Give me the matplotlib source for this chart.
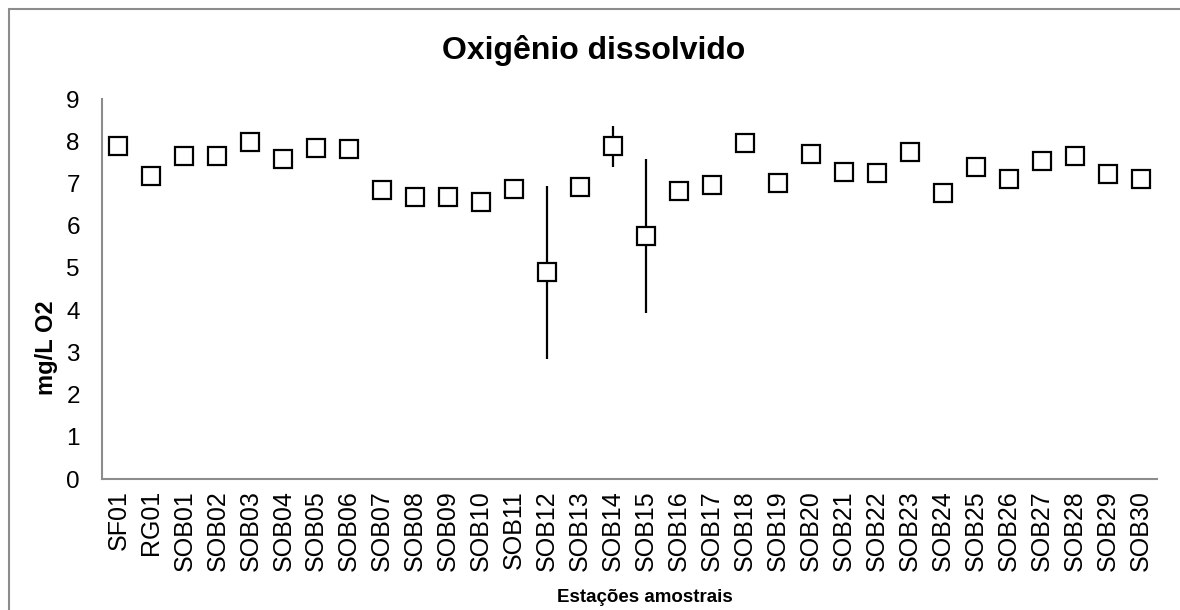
import matplotlib
matplotlib.use("Agg")
import matplotlib.pyplot as plt
from matplotlib.patches import Rectangle

plt.rcParams['font.family'] = ['Liberation Sans', 'DejaVu Sans']

# Sampling stations
stations = ["SF01", "RG01"] + [f"SOB{i:02d}" for i in range(1, 31)]

# Mean dissolved oxygen (mg/L O2) per station
oxygen = [7.89, 7.17, 7.66, 7.66, 7.97, 7.57, 7.85, 7.81, 6.85, 6.67,
          6.68, 6.57, 6.87, 4.90, 6.92, 7.88, 5.75, 6.81, 6.96, 7.95,
          7.00, 7.69, 7.26, 7.24, 7.74, 6.77, 7.38, 7.11, 7.52, 7.64,
          7.23, 7.10]

# Standard deviation (only stations with visible spread)
deviation = [0.0] * len(stations)
deviation[stations.index("SOB12")] = 2.05
deviation[stations.index("SOB14")] = 0.49
deviation[stations.index("SOB15")] = 1.83

W, H = 1180, 610
fig = plt.figure(figsize=(W / 100, H / 100), dpi=100)
ax = fig.add_axes([102 / W, 1 - 479 / H, (1157 - 102) / W, (479 - 99) / H])

x = list(range(len(stations)))
ax.errorbar(x, oxygen, yerr=deviation, fmt='none', ecolor='black',
            elinewidth=1.6, capsize=0, zorder=2)
ax.plot(x, oxygen, linestyle='none', marker='s', markersize=13.5,
        markerfacecolor='white', markeredgecolor='black',
        markeredgewidth=1.6, zorder=3)

ax.set_xlim(-0.5, len(stations) - 0.5)
ax.set_ylim(0, 9)
ax.set_yticks(range(0, 10))
ax.set_xticks(x)
ax.set_xticklabels(stations, rotation=90, fontsize=18)
ax.tick_params(axis='y', labelsize=17.5, length=0, pad=16)
ax.tick_params(axis='x', length=0, pad=8)

for side in ('top', 'right'):
    ax.spines[side].set_visible(False)
for side in ('left', 'bottom'):
    ax.spines[side].set_color('#8c8c8c')
    ax.spines[side].set_linewidth(1.5)

# Axis titles
fig.text(47 / W, 1 - 348 / H, "mg/L O2", fontsize=17, fontweight='bold',
         rotation=90, ha='center', va='center')
fig.text(645 / W, 1 - 597 / H, "Estações amostrais", fontsize=13.5,
         fontweight='bold', ha='center', va='center')

fig.text(594 / W, 1 - 50 / H, "Oxigênio dissolvido", fontsize=23,
         fontweight='bold', ha='center', va='center')

# Chart area border
fig.patches.append(Rectangle((9 / W, -0.1), 1.2, 1 - 9 / H + 0.1,
                             transform=fig.transFigure, fill=False,
                             edgecolor='#8c8c8c', linewidth=1.5))

fig.savefig("out.png", dpi=100, facecolor='white')
